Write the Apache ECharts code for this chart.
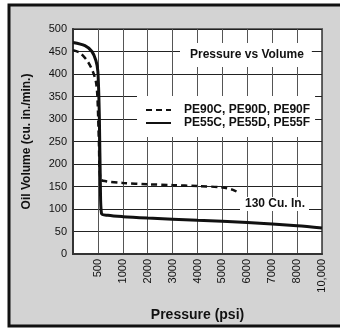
<!DOCTYPE html>
<html>
<head>
<meta charset="utf-8">
<script src="https://cdn.jsdelivr.net/npm/echarts@6/dist/echarts.min.js"></script>
<style>
html,body{margin:0;padding:0;background:#fff;}
#c{width:340px;height:329px;}
</style>
</head>
<body>
<div id="c"></div>
<script>
// tick positions on the (non-linear) pressure axis
var xTicks = [0, 500, 1000, 2000, 3000, 4000, 5000, 6000, 7000, 8000, 10000];
var xTickLabels = ['', '500', '1000', '2000', '3000', '4000', '5000', '6000', '7000', '8000', '10,000'];

// PE90C, PE90D, PE90F (dashed)
var pe90Pressure = [0, 140, 300, 400, 460, 490, 520, 550, 640, 1000, 2000, 3000, 4000, 5000, 5400, 5700];
var pe90Volume   = [453, 447, 427, 405, 383, 350, 250, 167, 162, 158, 155, 153, 151, 148, 143, 135];

// PE55C, PE55D, PE55F (solid)
var pe55Pressure = [0, 240, 380, 460, 500, 530, 550, 572, 700, 1000, 2000, 4000, 6000, 8000, 10000];
var pe55Volume   = [470, 463, 450, 430, 405, 300, 150, 90, 86, 83, 80, 75, 70, 63, 58];

var FONT = '"Liberation Sans",Arial,sans-serif';

function toPos(p) {
  for (var i = 0; i < xTicks.length - 1; i++) {
    if (p <= xTicks[i + 1]) {
      return i + (p - xTicks[i]) / (xTicks[i + 1] - xTicks[i]);
    }
  }
  return xTicks.length - 1;
}
function build(ps, vs) {
  return ps.map(function (p, i) { return [toPos(p), vs[i]]; });
}

var chart = echarts.init(document.getElementById('c'), null, {renderer: 'canvas'});
chart.setOption({
  animation: false,
  backgroundColor: '#ffffff',
  graphic: [{
    type: 'rect', z: -10, silent: true,
    shape: {x: 9, y: 5, width: 360, height: 321},
    style: {fill: '#d3d3d3', stroke: '#111', lineWidth: 3}
  }],
  title: [{
    text: 'Pressure vs Volume', left: 180, top: 43,
    backgroundColor: '#fff', padding: [6, 8, 6, 10],
    textStyle: {fontFamily: FONT, fontWeight: 'bold', fontSize: 12, color: '#111'}
  }, {
    text: '130 Cu. In.', left: 240, top: 197,
    backgroundColor: '#fff', padding: [1, 4, 1, 5],
    textStyle: {fontFamily: FONT, fontWeight: 'bold', fontSize: 12, color: '#111'}
  }],
  legend: {
    orient: 'vertical', left: 137, top: 96,
    backgroundColor: '#fff', padding: [8, 5, 8, 8], itemGap: 1,
    itemWidth: 25, itemHeight: 10,
    itemStyle: {opacity: 0},
    textStyle: {fontFamily: FONT, fontWeight: 'bold', fontSize: 12, color: '#111', padding: [0, 0, 0, 8]},
    data: ['PE90C, PE90D, PE90F', 'PE55C, PE55D, PE55F']
  },
  grid: {
    left: 73, top: 29, right: 18, bottom: 75,
    show: true, backgroundColor: '#fff', borderColor: '#666', borderWidth: 2
  },
  xAxis: {
    type: 'value', min: 0, max: 10, interval: 1,
    name: 'Pressure (psi)', nameLocation: 'middle', nameGap: 54,
    nameTextStyle: {fontFamily: FONT, fontWeight: 'bold', fontSize: 14, color: '#111'},
    axisLine: {show: true, lineStyle: {color: '#333', width: 2}},
    axisTick: {show: false},
    axisLabel: {
      rotate: 90, margin: 5, fontSize: 11, color: '#111', fontFamily: FONT,
      formatter: function (v) { return xTickLabels[Math.round(v)] || ''; }
    },
    splitLine: {show: true, lineStyle: {color: '#555', width: 1}}
  },
  yAxis: {
    type: 'value', min: 0, max: 500, interval: 50,
    name: 'Oil Volume (cu. in./min.)', nameLocation: 'middle', nameGap: 40,
    nameTextStyle: {fontFamily: FONT, fontWeight: 'bold', fontSize: 12, color: '#111'},
    axisLine: {show: true, lineStyle: {color: '#333', width: 2}},
    axisTick: {show: false},
    axisLabel: {margin: 6, fontSize: 11, color: '#111', fontFamily: FONT},
    splitLine: {show: true, lineStyle: {color: '#222', width: 1}}
  },
  series: [{
    name: 'PE90C, PE90D, PE90F', type: 'line', symbol: 'none', smooth: 0.3,
    data: build(pe90Pressure, pe90Volume),
    lineStyle: {color: '#111', width: 2.5, type: [6, 4]},
    itemStyle: {color: '#111'}
  }, {
    name: 'PE55C, PE55D, PE55F', type: 'line', symbol: 'none', smooth: 0.3,
    data: build(pe55Pressure, pe55Volume),
    lineStyle: {color: '#111', width: 3},
    itemStyle: {color: '#111'}
  }]
});
</script>
</body>
</html>
